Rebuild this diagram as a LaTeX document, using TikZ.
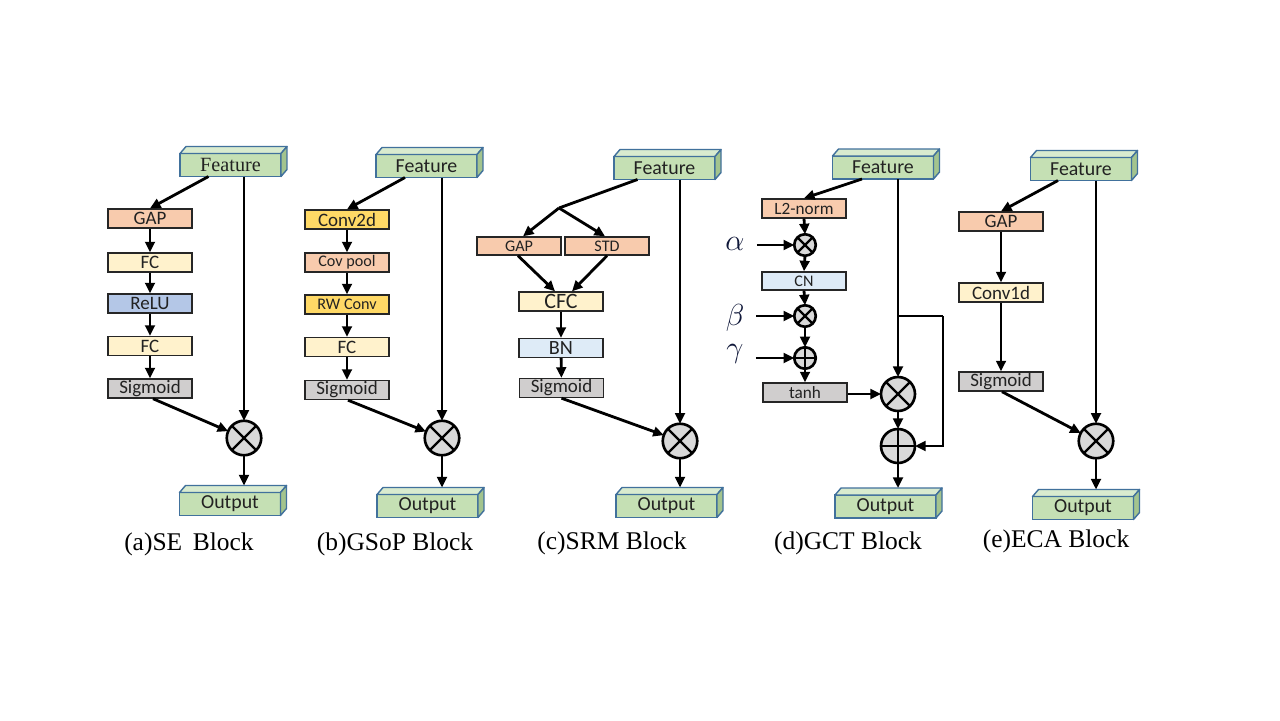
\documentclass[tikz,border=0pt]{standalone}
\usepackage{fontspec}
\setmainfont{Carlito}
\newfontfamily\seriff{Liberation Serif}
\usetikzlibrary{arrows.meta,calc}
\definecolor{grn}{HTML}{C5E0B4}
\definecolor{grnt}{HTML}{D9EBCF}
\definecolor{grns}{HTML}{A3C48E}
\definecolor{bbord}{HTML}{41719C}
\definecolor{gapc}{HTML}{F8CBAD}
\definecolor{fcc}{HTML}{FFF2CC}
\definecolor{reluc}{HTML}{B4C7E7}
\definecolor{sigc}{HTML}{D0CECE}
\definecolor{convc}{HTML}{FFD966}
\definecolor{bnc}{HTML}{DEEBF7}
\definecolor{circc}{HTML}{D9D9D9}
\definecolor{txt}{HTML}{222222}
\definecolor{grk}{HTML}{10183A}
\newcommand\cub[1]{%
  \filldraw[fill=grnt,draw=bbord,line width=0.8pt,line join=round] (#1.north west) -- ++(6,-7) -- ([shift={(6,-7)}]#1.north east) -- (#1.north east) -- cycle;
  \filldraw[fill=grns,draw=bbord,line width=0.8pt,line join=round] (#1.north east) -- ++(6,-7) -- ([shift={(6,-7)}]#1.south east) -- (#1.south east) -- cycle;}
\newcommand\opx[3]{\node[opc,minimum size=#3] (#1) at #2 {};
  \draw[line width=1.3pt] (#1.45) -- (#1.225) (#1.135) -- (#1.315);}
\newcommand\opp[3]{\node[opc,minimum size=#3] (#1) at #2 {};
  \draw[line width=1.3pt] (#1.north) -- (#1.south) (#1.east) -- (#1.west);}
\begin{document}
\begin{tikzpicture}[x=0.02cm,y=-0.02cm,
  blk/.style={draw=black!85,line width=0.8pt,minimum width=1.68cm,minimum height=0.38cm,inner sep=0pt,text=txt,font=\fontsize{10.8}{10.8}\selectfont},
  sm/.style={font=\fontsize{9.2}{9.2}\selectfont},
  feat/.style={draw=bbord,fill=grn,line width=0.8pt,minimum width=2.02cm,minimum height=0.46cm,inner sep=0pt,outer sep=0pt,text=txt,font=\fontsize{11.3}{11.3}\selectfont},
  arr/.style={line width=1.6pt,-{Triangle[length=6pt,width=5.5pt]}},
  ln/.style={line width=1.6pt},
  opc/.style={circle,draw,fill=circc,line width=1.5pt,inner sep=0pt,outer sep=0pt},
  captxt/.style={font=\seriff\fontsize{14.5}{14.5}\selectfont},
  greek/.style={text=grk,font=\fontsize{18}{18}\selectfont},
]
\useasboundingbox (0,0) rectangle (1280,720);
\fill[white] (0,0) rectangle (1280,720);

% (a) SE
\node[feat,font=\seriff\fontsize{11.5}{11.5}\selectfont] (Fa) at (230.5,165) {Feature}; \cub{Fa}
\node[blk,fill=gapc] (a1) at (150,218.5) {GAP};
\node[blk,fill=fcc] (a2) at (150,262.5) {FC};
\node[blk,fill=reluc] (a3) at (150,303.5) {ReLU};
\node[blk,fill=fcc] (a4) at (150,346) {FC};
\node[blk,fill=sigc] (a5) at (150,388.5) {Sigmoid};
\opx{Xa}{(244,438)}{0.69cm}
\node[feat] (Oa) at (230,504) {Output}; \cub{Oa}
\coordinate (Oat) at ($(Oa.north)+(0,-7)$);
\node[captxt] (ca) at (189,544) {(a)SE\, Block};
\draw[arr] ($(Fa.south)+(-22,0)$) -- (a1.north);
\draw[arr] (a1) -- (a2);
\draw[arr] (a2) -- (a3);
\draw[arr] (a3) -- (a4);
\draw[arr] (a4) -- (a5);
\draw[arr] (Xa.north |- Fa.south) -- (Xa.north);
\draw[arr] ($(a5.south)+(3,0)$) -- (Xa);
\draw[arr] (Xa.south) -- (Xa.south |- Oat);

% (b) GSoP
\node[feat] (Fb) at (426.5,166) {Feature}; \cub{Fb}
\node[blk,fill=convc] (b1) at (347,219.5) {Conv2d};
\node[blk,fill=gapc,sm] (b2) at (347,262.5) {Cov pool};
\node[blk,fill=convc,sm] (b3) at (347,304.5) {RW Conv};
\node[blk,fill=fcc] (b4) at (347,347) {FC};
\node[blk,fill=sigc] (b5) at (347,390) {Sigmoid};
\opx{Xb}{(442,438)}{0.69cm}
\node[feat] (Ob) at (427.5,506) {Output}; \cub{Ob}
\coordinate (Obt) at ($(Ob.north)+(0,-7)$);
\node[captxt] (cb) at (395,544) {(b)GSoP Block};
\draw[arr] ($(Fb.south)+(-21.5,0)$) -- (b1.north);
\draw[arr] (b1) -- (b2);
\draw[arr] (b2) -- (b3);
\draw[arr] (b3) -- (b4);
\draw[arr] (b4) -- (b5);
\draw[arr] (Xb.north |- Fb.south) -- (Xb.north);
\draw[arr] ($(b5.south)+(1,0)$) -- (Xb);
\draw[arr] (Xb.south) -- (Xb.south |- Obt);

% (c) SRM
\node[feat] (Fc) at (664.5,168) {Feature}; \cub{Fc}
\coordinate (sp) at (559,208);
\node[blk,fill=gapc,sm,minimum height=0.36cm] (c1) at (519,246) {GAP};
\node[blk,fill=gapc,sm,minimum height=0.36cm] (c2) at (607,246) {STD};
\node[blk,fill=fcc,font=\fontsize{12.5}{12.5}\selectfont] (c3) at (561,301.5) {CFC};
\node[blk,fill=bnc,font=\fontsize{11.5}{11.5}\selectfont] (c4) at (561,348) {BN};
\node[blk,fill=sigc] (c5) at (561.5,388) {Sigmoid};
\opx{Xc}{(680,441)}{0.69cm}
\node[feat] (Oc) at (666.5,506) {Output}; \cub{Oc}
\coordinate (Oct) at ($(Oc.north)+(0,-7)$);
\node[captxt] (cc) at (612,543) {(c)SRM Block};
\draw[ln] ($(Fc.south)+(-27,0)$) -- (sp);
\draw[arr] (sp) -- ($(c1.north)+(4,0)$);
\draw[arr] (sp) -- ($(c2.north)+(-2,0)$);
\draw[arr] ($(c1.south)+(-1,0)$) -- ($(c3.north)+(-6,0)$);
\draw[arr] (c2.south) -- ($(c3.north)+(11,0)$);
\draw[arr] (c3) -- (c4);
\draw[arr] (c4) -- (c5);
\draw[arr] (Xc.north |- Fc.south) -- (Xc.north);
\draw[arr] (c5.south) -- (Xc);
\draw[arr] (Xc.south) -- (Xc.south |- Oct);

% (d) GCT
\node[feat] (Fd) at (883,167.5) {Feature}; \cub{Fd}
\node[blk,fill=gapc,font=\fontsize{9.8}{9.8}\selectfont] (d1) at (804,208.5) {L2-norm};
\opx{m1}{(805,245)}{0.43cm}
\node[blk,fill=bnc,sm,minimum height=0.36cm] (d2) at (804,281) {CN};
\opx{m2}{(805,316)}{0.43cm}
\opp{p1}{(805,358)}{0.43cm}
\node[blk,fill=sigc,font=\fontsize{9.8}{9.8}\selectfont] (d3) at (805,392.5) {tanh};
\opx{Xd}{(898,394)}{0.68cm}
\opp{Pd}{(898,446)}{0.68cm}
\node[feat] (Od) at (885.5,506.5) {Output}; \cub{Od}
\coordinate (Odt) at ($(Od.north)+(0,-7)$);
\node[greek] (al) at (735,244) {$\alpha$};
\node[greek] (be) at (735,318) {$\beta$};
\node[greek] (ga) at (735,354) {$\gamma$};
\node[captxt] (cd) at (848,543) {(d)GCT Block};
\draw[arr] ($(Fd.south)+(-21,0)$) -- (d1.north);
\draw[arr] (d1.south) -- (m1.north);
\draw[arr] (m1.south) -- (d2.north);
\draw[arr] (d2.south) -- (m2.north);
\draw[arr] (m2.south) -- (p1.north);
\draw[arr] (p1.south) -- (d3.north);
\draw[arr] (m1.west -| al.east) ++(6,0) -- (m1.west);
\draw[arr] (m2.west -| be.east) ++(6,0) -- (m2.west);
\draw[arr] (p1.west -| ga.east) ++(6,0) -- (p1.west);
\draw[arr] (d3.east |- Xd.west) -- (Xd.west);
\draw[arr] (Xd.north |- Fd.south) -- (Xd.north);
\coordinate (br) at (Xd.north |- m2.center);
\coordinate (rt) at (943,316);
\draw[ln] (br) -- (rt);
\draw[arr,line join=miter] (rt) |- (Pd.east);
\draw[arr] (Xd.south) -- (Pd.north);
\draw[arr] (Pd.south) -- (Pd.south |- Odt);

% (e) ECA
\node[feat] (Fe) at (1081,169) {Feature}; \cub{Fe}
\node[blk,fill=gapc] (e1) at (1001,221.5) {GAP};
\node[blk,fill=fcc] (e2) at (1001,292.5) {Conv1d};
\node[blk,fill=sigc] (e3) at (1001,381.5) {Sigmoid};
\opx{Xe}{(1096,441)}{0.69cm}
\node[feat] (Oe) at (1083,508) {Output}; \cub{Oe}
\coordinate (Oet) at ($(Oe.north)+(0,-7)$);
\node[captxt] (ce) at (1056,541) {(e)ECA Block};
\draw[arr] ($(Fe.south)+(-23,0)$) -- (e1.north);
\draw[arr] (e1) -- (e2);
\draw[arr] (e2) -- (e3);
\draw[arr] (Xe.north |- Fe.south) -- (Xe.north);
\draw[arr] ($(e3.south)+(1,0)$) -- (Xe);
\draw[arr] (Xe.south) -- (Xe.south |- Oet);
\end{tikzpicture}
\end{document}
